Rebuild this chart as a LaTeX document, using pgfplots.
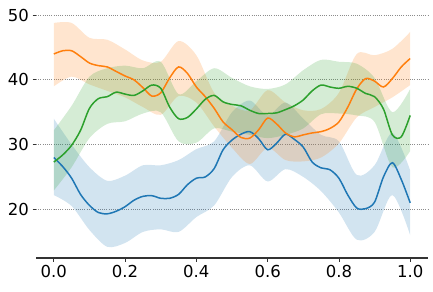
\documentclass[border=0pt]{standalone}
\usepackage{pgfplots}
\pgfplotsset{compat=1.18}
\usepackage{pgfplotstable}
\usepgfplotslibrary{fillbetween}
\usepackage{fontspec}
\setmainfont{DejaVu Sans}
\definecolor{tabblue}{HTML}{1F77B4}
\definecolor{taborange}{HTML}{FF7F0E}
\definecolor{tabgreen}{HTML}{2CA02C}
\definecolor{spine}{HTML}{333333}
\definecolor{gridc}{HTML}{8C8C8C}
\pgfplotstableread{
x bm om gm
0.000 28.0 44.0 27.3
0.025 26.6 44.5 28.4
0.050 24.8 44.5 29.9
0.075 22.3 43.6 32.2
0.100 20.6 42.6 35.6
0.125 19.5 42.2 37.1
0.150 19.3 42.0 37.4
0.175 19.7 41.3 38.1
0.200 20.4 40.6 37.8
0.225 21.4 40.0 37.6
0.250 22.0 38.8 38.3
0.275 22.1 37.5 39.2
0.300 21.7 38.0 38.7
0.325 21.7 40.3 35.8
0.350 22.3 42.0 34.0
0.375 23.8 41.0 34.2
0.400 24.8 38.9 35.5
0.425 25.0 37.4 37.0
0.450 26.3 35.6 37.6
0.475 29.2 33.5 36.6
0.500 30.7 32.3 36.2
0.525 31.6 31.1 36.0
0.550 32.0 31.0 35.3
0.575 30.9 32.3 34.8
0.600 29.2 34.1 34.8
0.625 30.2 33.2 34.9
0.650 31.6 31.8 35.4
0.675 30.8 31.2 36.0
0.700 29.6 31.5 36.9
0.725 27.3 31.8 38.3
0.750 26.4 32.0 39.2
0.775 26.1 32.5 38.9
0.800 24.8 33.5 38.7
0.825 22.2 35.8 39.0
0.850 20.2 38.6 38.7
0.875 20.1 40.2 37.9
0.900 21.1 39.8 37.4
0.925 25.0 38.9 35.5
0.950 27.2 40.2 31.5
0.975 24.6 42.0 31.2
1.000 21.0 43.3 34.5
}\means
\pgfplotstableread{
x bl bu ol ou gl gu
0.00 22.2 34.0 39.0 48.8 22.9 32.2
0.05 20.5 30.0 40.5 48.8 26.5 36.0
0.10 16.8 26.5 39.3 46.5 31.0 40.5
0.15 14.2 24.4 38.3 46.2 33.2 41.8
0.20 14.8 25.2 37.3 44.7 33.6 42.2
0.25 16.5 26.8 35.8 43.0 34.8 41.8
0.30 16.9 26.8 34.6 42.8 35.0 42.8
0.35 16.5 27.6 37.5 46.0 30.5 37.8
0.40 18.8 29.3 36.5 43.8 30.3 39.8
0.45 20.6 30.5 32.8 38.0 32.5 41.8
0.50 25.0 35.0 29.5 36.0 32.0 40.3
0.55 26.8 36.8 27.0 35.3 31.5 39.0
0.60 24.3 34.5 29.5 38.4 31.0 38.6
0.65 26.2 36.5 27.6 36.5 31.5 39.3
0.70 25.0 34.0 27.4 35.3 32.5 41.5
0.75 22.8 31.5 28.0 35.5 34.7 43.1
0.80 19.5 30.5 30.2 38.0 34.8 42.8
0.85 15.3 25.3 34.2 44.0 34.5 42.5
0.90 16.5 26.8 35.8 43.8 33.5 40.3
0.95 22.2 31.8 37.3 44.8 26.5 35.0
1.00 16.0 26.0 39.2 47.4 29.0 38.6
}\bands
\begin{document}
\begin{tikzpicture}
\begin{axis}[
  scale only axis, width=392pt, height=248.2pt,
  xmin=-0.05, xmax=1.05, ymin=12.44, ymax=50.8,
  axis x line*=bottom, axis y line*=left,
  y axis line style={draw=none},
  x axis line style={draw=spine, line width=2pt},
  tick align=outside, major tick length=3.5pt,
  tick style={draw=spine, line width=0.8pt},
  xtick={0,0.2,0.4,0.6,0.8,1.0},
  ytick={20,30,40,50},
  xticklabels={0.0,0.2,0.4,0.6,0.8,1.0},
  ymajorgrids, grid style={draw=gridc, line width=0.8pt, dash pattern=on 0.8pt off 1.4pt},
  /pgf/number format/assume math mode=true,
  ticklabel style={font=\fontsize{16.5}{19}\selectfont, text=black},
  clip=false,
]
\addplot[name path=bu, draw=none, smooth] table[x=x, y=bu] {\bands};
\addplot[name path=bl, draw=none, smooth] table[x=x, y=bl] {\bands};
\addplot[tabblue, fill opacity=0.2, draw=none] fill between[of=bu and bl];
\addplot[name path=ou, draw=none, smooth] table[x=x, y=ou] {\bands};
\addplot[name path=ol, draw=none, smooth] table[x=x, y=ol] {\bands};
\addplot[taborange, fill=taborange, fill opacity=0.2, draw=none] fill between[of=ou and ol];
\addplot[name path=gu, draw=none, smooth] table[x=x, y=gu] {\bands};
\addplot[name path=gl, draw=none, smooth] table[x=x, y=gl] {\bands};
\addplot[tabgreen, fill=tabgreen, fill opacity=0.2, draw=none] fill between[of=gu and gl];
\addplot[tabblue, line width=1.5pt, smooth, no markers] table[x=x, y=bm] {\means};
\addplot[taborange, line width=1.5pt, smooth, no markers] table[x=x, y=om] {\means};
\addplot[tabgreen, line width=1.5pt, smooth, no markers] table[x=x, y=gm] {\means};
\end{axis}
\pgfresetboundingbox
\path (-36pt,-33pt) rectangle (397pt,258.2pt);
\end{tikzpicture}
\end{document}
